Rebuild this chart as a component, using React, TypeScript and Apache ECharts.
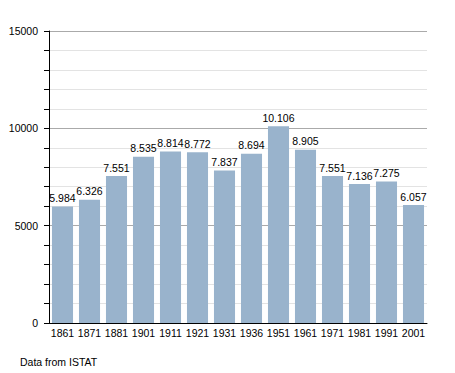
import React, { useEffect, useRef } from "react";
import * as echarts from "echarts";

const years = ["1861", "1871", "1881", "1901", "1911", "1921", "1931", "1936", "1951", "1961", "1971", "1981", "1991", "2001"];
const population = [5984, 6326, 7551, 8535, 8814, 8772, 7837, 8694, 10106, 8905, 7551, 7136, 7275, 6057];
const sourceNote = "Data from ISTAT";

const fmt = (v: number) => String(v).replace(/\B(?=(\d{3})+(?!\d))/g, ".");

export default function App() {
  const ref = useRef<HTMLDivElement>(null);
  useEffect(() => {
    const chart = echarts.init(ref.current!, null, { renderer: "svg" });
    const font = "'Liberation Sans', Arial, sans-serif";
    chart.setOption({
      animation: false,
      backgroundColor: "#ffffff",
      textStyle: { fontFamily: font },
      grid: { left: 49, top: 31, right: 28, bottom: 50, containLabel: false },
      xAxis: {
        type: "category",
        data: years,
        axisLine: { lineStyle: { color: "#000", width: 1 } },
        axisTick: { show: false },
        axisLabel: { color: "#000", fontSize: 10.5, fontFamily: font, margin: 4, interval: 0 },
      },
      yAxis: {
        type: "value",
        min: 0,
        max: 15000,
        interval: 1000,
        axisLine: { show: true, lineStyle: { color: "#000", width: 1 } },
        axisTick: { show: true, length: 5, lineStyle: { color: "#000" } },
        axisLabel: {
          color: "#000",
          fontSize: 10.5,
          fontFamily: font,
          margin: 11,
          formatter: (v: number) => (v % 5000 === 0 ? String(v) : ""),
        },
        splitLine: {
          show: true,
          lineStyle: { color: ["#aaaaaa", "#e3e3e3", "#e3e3e3", "#e3e3e3", "#e3e3e3"], width: 1 },
        },
      },
      series: [
        {
          type: "bar",
          data: population,
          barCategoryGap: "22%",
          itemStyle: { color: "#99b3cc" },
          label: {
            show: true,
            position: "top",
            distance: 3,
            color: "#000",
            fontSize: 10.5,
            fontFamily: font,
            formatter: (p: any) => fmt(p.value),
          },
        },
      ],
      graphic: [
        {
          type: "text",
          left: 20,
          top: 356,
          style: { text: sourceNote, fill: "#000", font: `10.5px ${font}` },
        },
      ],
    });
    return () => chart.dispose();
  }, []);
  return <div ref={ref} style={{ width: 455, height: 373, position: "absolute", left: 0, top: 0 }} />;
}
